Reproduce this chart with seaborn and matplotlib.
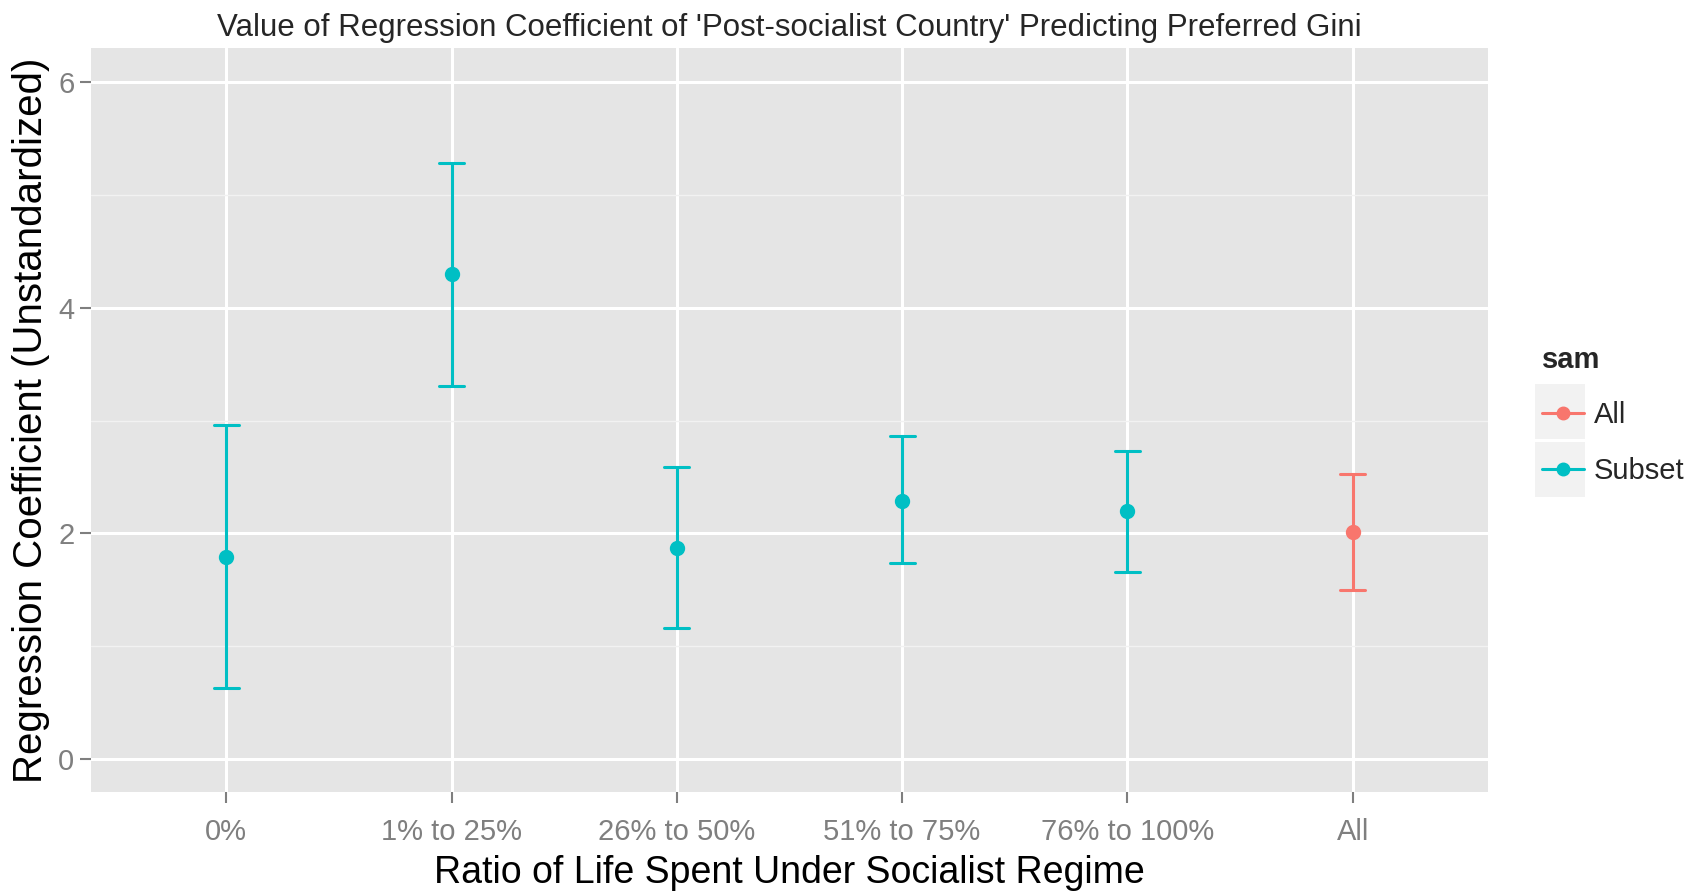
import numpy as np
import pandas as pd
import matplotlib
matplotlib.use("Agg")
import matplotlib.pyplot as plt
from matplotlib.lines import Line2D
from matplotlib.patches import Rectangle
import seaborn as sns

# ---- data ----
categories = ["0%", "1% to 25%", "26% to 50%", "51% to 75%", "76% to 100%", "All"]
sample = ["Subset", "Subset", "Subset", "Subset", "Subset", "All"]
coef = [1.79, 4.30, 1.87, 2.29, 2.20, 2.01]
lower = [0.63, 3.31, 1.16, 1.74, 1.66, 1.50]
upper = [2.96, 5.28, 2.59, 2.86, 2.73, 2.53]
hue_levels = ["All", "Subset"]
colors = ["#F8766D", "#00BFC4"]

rows = []
for c, s, lo, m, hi in zip(categories, sample, lower, coef, upper):
    for v in (lo, m, hi):
        rows.append({"cat": c, "sam": s, "val": v})
df = pd.DataFrame(rows)

sns.set_style("white")
plt.rcParams["font.family"] = ["Liberation Sans", "DejaVu Sans"]

fig = plt.figure(figsize=(17.02, 8.91), dpi=100)
ax = fig.add_axes([0.0535, 0.1111, 0.8207, 0.835])
ax.set_facecolor("#E5E5E5")

sns.pointplot(data=df, x="cat", y="val", hue="sam", order=categories,
              hue_order=hue_levels, palette=colors, estimator="median",
              errorbar=lambda x: (np.min(x), np.max(x)), dodge=False,
              linestyle="none", capsize=0.11, markers="o",
              markersize=9, err_kws={"linewidth": 2.2}, ax=ax, legend=False)

ax.set_xlim(-0.6, 5.6)
ax.set_ylim(-0.29, 6.30)
ax.set_yticks([0, 2, 4, 6])
ax.set_yticks([1, 3, 5], minor=True)
ax.grid(which="major", color="white", linewidth=2.2)
ax.grid(which="minor", axis="y", color="#F2F2F2", linewidth=1.0)
ax.set_axisbelow(True)
for sp in ax.spines.values():
    sp.set_visible(False)

ax.tick_params(axis="both", which="major", colors="#7F7F7F", labelsize=21,
               length=8, width=1.5, direction="out", pad=6, bottom=True, left=True)
ax.tick_params(axis="x", which="major", pad=11)
ax.tick_params(axis="y", which="major", pad=4)
ax.tick_params(axis="y", which="minor", length=0)

ax.set_xlabel("Ratio of Life Spent Under Socialist Regime", fontsize=27, labelpad=6, color="black")
ax.set_ylabel("Regression Coefficient (Unstandardized)", fontsize=29, labelpad=6, color="black")
ax.set_title("Value of Regression Coefficient of 'Post-socialist Country' Predicting Preferred Gini",
             fontsize=22.5, pad=9)

# legend
handles = [Line2D([0], [0], color=c, marker="o", markersize=9, linewidth=2.2) for c in colors]
leg = fig.legend(handles, hue_levels, title="sam", loc="upper left",
                 bbox_to_anchor=(1530 / 1702, 1 - 334 / 891), frameon=False,
                 fontsize=21, title_fontsize=21, handlelength=1.45,
                 handletextpad=0.35, labelspacing=0.95, borderaxespad=0,
                 alignment="left")
leg.get_title().set_fontweight("bold")
for y0 in (384, 442):
    fig.patches.append(Rectangle((1535 / 1702, 1 - (y0 + 55) / 891), 50 / 1702, 55 / 891,
                                 transform=fig.transFigure, facecolor="#F2F2F2",
                                 edgecolor="none", zorder=0))

fig.savefig("out.png", dpi=100)
